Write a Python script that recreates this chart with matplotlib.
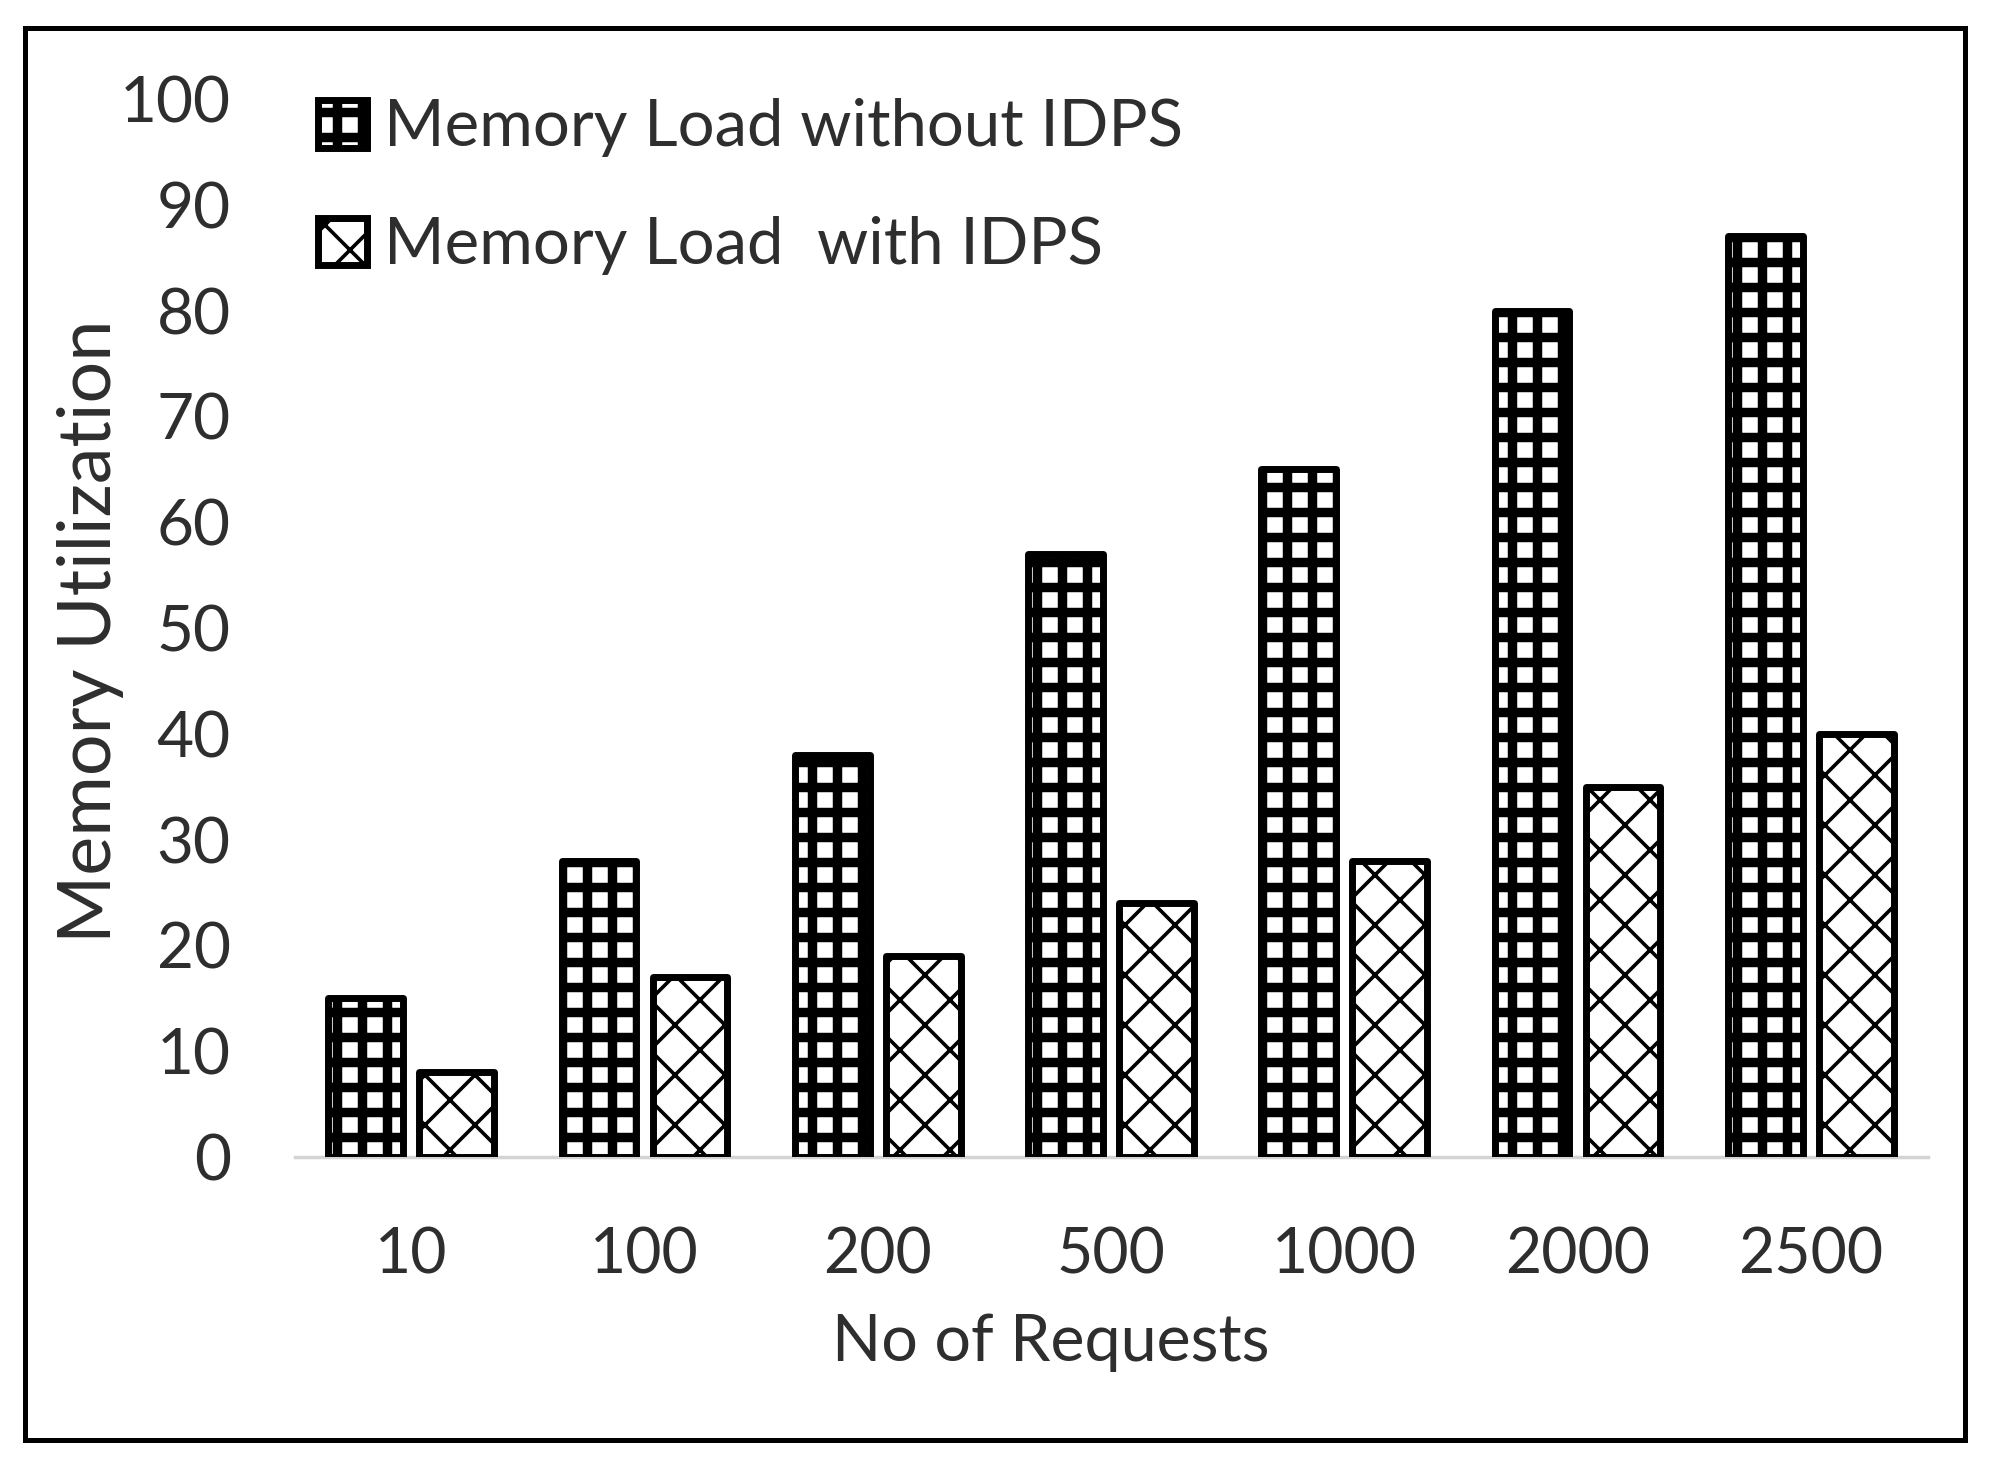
import matplotlib
matplotlib.use("Agg")
import matplotlib.pyplot as plt
import matplotlib.hatch as mhatch
from matplotlib.patches import Rectangle
import numpy as np

# ---- data ----
categories = ["10", "100", "200", "500", "1000", "2000", "2500"]
without_idps = [15, 28, 38, 57, 65, 80, 87]
with_idps = [8, 17, 19, 24, 28, 35, 40]
series_labels = ["Memory Load without IDPS", "Memory Load  with IDPS"]
yticks = [0, 10, 20, 30, 40, 50, 60, 70, 80, 90, 100]

# hatch densities (style only)
_orig_get_path = mhatch.get_path
_DENS = {'+': 4, 'x': 4}
def _get_path(pattern, density=6):
    return _orig_get_path(pattern, _DENS.get(pattern, density))
mhatch.get_path = _get_path


def with_hatch_lw(artist, lw):
    orig = artist.draw
    def draw(renderer, *args, **kwargs):
        with plt.rc_context({'hatch.linewidth': lw}):
            return orig(renderer, *args, **kwargs)
    artist.draw = draw
    if hasattr(artist, 'set_hatch_linewidth'):
        try:
            artist.set_hatch_linewidth(lw)
        except Exception:
            pass


plt.rcParams['font.family'] = ['Lato', 'DejaVu Sans']
TXT = '#2e2e2e'
HLW_GRID = 6.8
HLW_X = 2.6

fig = plt.figure(figsize=(19.9, 14.7), dpi=100)
ax = fig.add_axes([0.148, 0.2129, 0.8206, 0.7198])

x = np.arange(len(categories))
w = 0.32
off = 0.195

b1 = ax.bar(x - off, without_idps, w, color='white', edgecolor='black',
            linewidth=5.0, hatch='+', label=series_labels[0], zorder=3)
b2 = ax.bar(x + off, with_idps, w, color='white', edgecolor='black',
            linewidth=5.0, hatch='x', label=series_labels[1], zorder=3)
for bars, hl in ((b1, HLW_GRID), (b2, HLW_X)):
    for p in bars:
        p.set_joinstyle('round')
        with_hatch_lw(p, hl)

ax.set_xlim(-0.5, len(categories) - 0.5)
ax.set_ylim(0, 100)
ax.set_yticks(yticks)
ax.set_xticks(x)
ax.set_xticklabels(categories)
for s in ('top', 'right', 'left'):
    ax.spines[s].set_visible(False)
ax.spines['bottom'].set_color('#d4d4d4')
ax.spines['bottom'].set_linewidth(2.5)
ax.spines['bottom'].set_zorder(1)
ax.tick_params(axis='y', length=0, pad=46, labelsize=46, labelcolor=TXT)
ax.tick_params(axis='x', length=0, pad=50, labelsize=45, labelcolor=TXT)

ax.set_ylabel("Memory Utilization", fontsize=53, color=TXT, va='center')
ax.yaxis.set_label_coords(-0.125, 0.497)
ax.set_xlabel("No of Requests", fontsize=46.5, color=TXT, va='center')
ax.xaxis.set_label_coords(0.463, -0.1757)

leg = ax.legend(loc='upper left', bbox_to_anchor=(0.160, 0.933),
                bbox_transform=fig.transFigure, frameon=False,
                fontsize=47, handlelength=0.75, handleheight=0.75,
                handletextpad=0.25, labelspacing=0.9, borderaxespad=0,
                borderpad=0)
for t in leg.get_texts():
    t.set_color(TXT)
for h, hl in zip(leg.legend_handles, (HLW_GRID, HLW_X)):
    h.set_linewidth(5.0)
    with_hatch_lw(h, hl)

fig.patches.append(Rectangle((25 / 1990, 1 - 1440 / 1470),
                             (1965 - 25) / 1990, (1440 - 28) / 1470,
                             transform=fig.transFigure, fill=False,
                             edgecolor='black', linewidth=3.6, zorder=10))

fig.savefig("out.png", dpi=100, facecolor='white')
